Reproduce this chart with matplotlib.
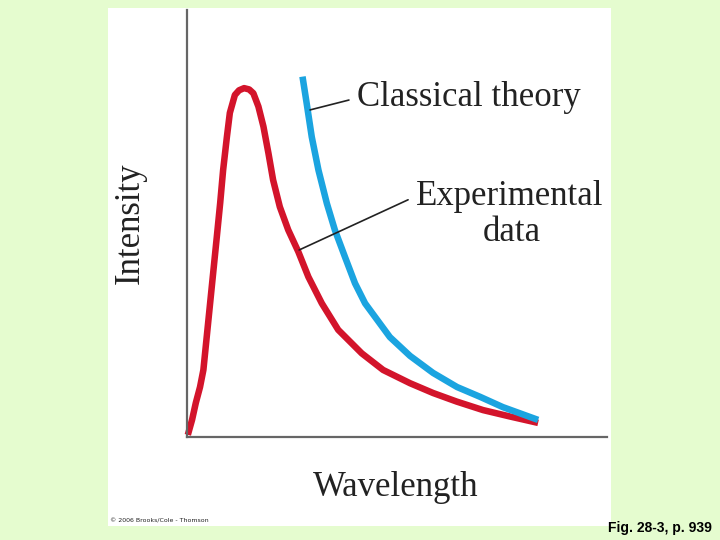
import matplotlib.pyplot as plt
from matplotlib.patches import Rectangle

# experimental (blackbody) curve, arbitrary units
exp_wavelength = [0.02, 0.12, 0.21, 0.31, 0.39, 0.47, 0.59, 0.71, 0.79, 0.86,
                  0.95, 1.02, 1.14, 1.24, 1.36, 1.48, 1.58, 1.70, 1.82, 1.94,
                  2.05, 2.21, 2.41, 2.65, 2.89, 3.21, 3.60, 4.16, 4.67, 5.31,
                  5.86, 6.42, 7.05, 7.69, 8.36]
exp_intensity = [0.05, 0.40, 0.80, 1.17, 1.57, 2.35, 3.52, 4.69, 5.48, 6.25,
                 7.03, 7.59, 8.01, 8.12, 8.17, 8.14, 8.05, 7.74, 7.27, 6.64,
                 6.02, 5.39, 4.85, 4.34, 3.75, 3.13, 2.51, 1.96, 1.57, 1.26,
                 1.03, 0.83, 0.63, 0.48, 0.33]

# classical (Rayleigh-Jeans) prediction
cls_wavelength = [2.75, 2.85, 2.97, 3.13, 3.33, 3.52, 3.76, 4.00, 4.24, 4.83,
                  5.31, 5.86, 6.43, 6.98, 7.52, 8.36]
cls_intensity = [8.44, 7.81, 7.03, 6.25, 5.47, 4.85, 4.22, 3.60, 3.13, 2.34,
                 1.90, 1.50, 1.17, 0.94, 0.70, 0.40]

W, H = 720, 540
fig = plt.figure(figsize=(7.2, 5.4), dpi=100)
fig.patch.set_facecolor('#e5fccf')

# white panel behind the drawing
fig.patches.append(Rectangle((108 / W, 1 - 526 / H), (611 - 108) / W, (526 - 8) / H,
                             transform=fig.transFigure, facecolor='white',
                             edgecolor='none', zorder=-1))

ax = fig.add_axes([187 / W, 1 - 437 / H, (607 - 187) / W, (437 - 10) / H])
ax.set_zorder(2)
ax.set_facecolor('none')
ax.set_xlim(0, 10)
ax.set_ylim(0, 10)
for side in ['top', 'right']:
    ax.spines[side].set_visible(False)
for side in ['left', 'bottom']:
    ax.spines[side].set_color('#666666')
    ax.spines[side].set_linewidth(1.6)
ax.set_xticks([])
ax.set_yticks([])

ax.plot(exp_wavelength, exp_intensity, color='#d3142b', lw=4.7,
        solid_capstyle='butt', solid_joinstyle='round', clip_on=False)
ax.plot(cls_wavelength, cls_intensity, color='#1ba4e0', lw=4.7,
        solid_capstyle='butt', solid_joinstyle='round', clip_on=False)

serif = 'Liberation Serif'
fs = 25
ax.annotate('Classical theory', xy=(2.93, 7.66), xytext=(4.05, 7.94),
            fontsize=fs, family=serif, color='#222222', va='center', ha='left',
            arrowprops=dict(arrowstyle='-', color='#222222', lw=1.2,
                            shrinkA=4, shrinkB=0, relpos=(0, 0.5)),
            annotation_clip=False)
ax.annotate('Experimental', xy=(2.67, 4.38), xytext=(5.45, 5.64),
            fontsize=fs, family=serif, color='#222222', va='center', ha='left',
            arrowprops=dict(arrowstyle='-', color='#222222', lw=1.2,
                            shrinkA=4, shrinkB=0, relpos=(0, 0.5)),
            annotation_clip=False)
ax.text(7.74, 4.80, 'data', fontsize=fs, family=serif, color='#222222',
        ha='center', va='center')

fig.text(396 / W, 1 - 488 / H, 'Wavelength', fontsize=fs, family=serif,
         color='#222222', ha='center', va='center')
fig.text(130 / W, 1 - 223 / H, 'Intensity', fontsize=fs, family=serif,
         color='#222222', ha='center', va='center', rotation=90)

fig.text(110 / W, 1 - 521 / H, '\u00a9 2006 Brooks/Cole - Thomson', fontsize=4.5,
         color='#222222', ha='left', va='center')
fig.text(712 / W, 1 - 528 / H, 'Fig. 28-3, p. 939', fontsize=10, weight='bold',
         family='Liberation Sans', color='black', ha='right', va='center')

fig.savefig('out.png', dpi=100, facecolor=fig.get_facecolor())
